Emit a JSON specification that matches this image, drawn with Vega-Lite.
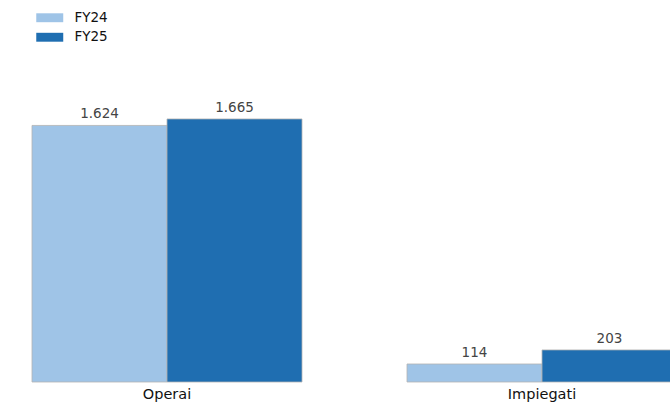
{
  "$schema": "https://vega.github.io/schema/vega-lite/v6.json",
  "width": 650,
  "height": 382,
  "autosize": {"type": "none"},
  "padding": {"left": 20, "top": 0, "right": 0, "bottom": 21},
  "config": {
    "view": {"stroke": null},
    "font": "DejaVu Sans",
    "locale": {"number": {"decimal": ",", "thousands": ".", "grouping": [3], "currency": ["€", ""]}}
  },
  "data": {
    "values": [
      {"categoria": "Operai", "anno": "FY24", "valore": 1624},
      {"categoria": "Operai", "anno": "FY25", "valore": 1665},
      {"categoria": "Impiegati", "anno": "FY24", "valore": 114},
      {"categoria": "Impiegati", "anno": "FY25", "valore": 203}
    ]
  },
  "encoding": {
    "x": {
      "field": "categoria", "type": "nominal", "sort": ["Operai", "Impiegati"],
      "scale": {"range": [12, 657], "paddingInner": 0.28, "paddingOuter": 0},
      "axis": {"title": null, "domain": false, "ticks": false, "labelAngle": 0, "labelFontSize": 14.5, "labelColor": "#111", "labelPadding": 5, "labelFont": "DejaVu Sans"}
    },
    "xOffset": {"field": "anno", "type": "nominal", "scale": {"paddingInner": 0, "paddingOuter": 0}},
    "y": {"field": "valore", "type": "quantitative", "scale": {"domain": [0, 2418], "nice": false}, "axis": null}
  },
  "layer": [
    {
      "mark": {"type": "bar", "stroke": "#b4b4b4", "strokeWidth": 0.8, "clip": false},
      "encoding": {
        "color": {
          "field": "anno", "type": "nominal",
          "scale": {"domain": ["FY24", "FY25"], "range": ["#9fc4e7", "#1f6eb1"]},
          "legend": {
            "title": null, "orient": "none", "legendX": 22.75, "legendY": 10.75,
            "symbolType": "M-2,-0.66H2V0.66H-2Z", "symbolSize": 182,
            "symbolStrokeWidth": 0, "labelFontSize": 13.5, "labelColor": "#111",
            "labelFont": "DejaVu Sans", "rowPadding": 5.5, "labelOffset": 17.75
          }
        }
      }
    },
    {
      "mark": {"type": "text", "baseline": "alphabetic", "dy": -7, "fontSize": 13.5, "color": "#444"},
      "encoding": {"text": {"field": "valore", "type": "quantitative", "format": ","}}
    },
    {
      "mark": {"type": "rule", "color": "#a0a0a0", "strokeWidth": 1.5},
      "encoding": {"y": {"datum": 0}}
    }
  ]
}
